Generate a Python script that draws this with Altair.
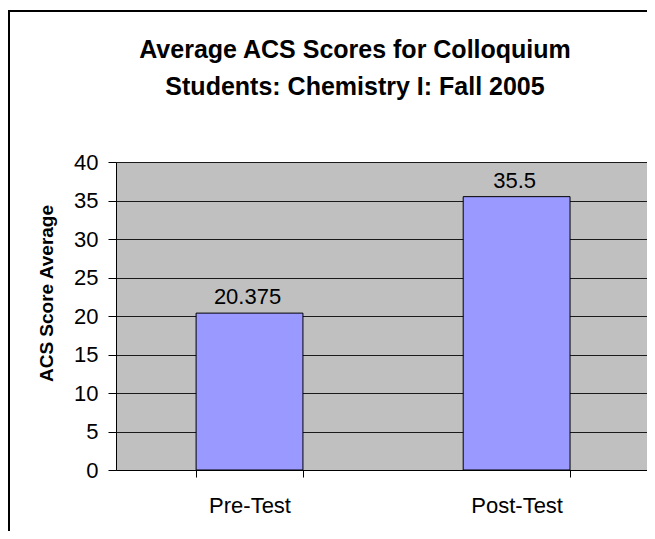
import altair as alt
import pandas as pd

categories = ["Pre-Test", "Post-Test"]
scores = [20.375, 35.5]
score_labels = ["20.375", "35.5"]
y_ticks = [0, 5, 10, 15, 20, 25, 30, 35, 40]
title_lines = ["Average ACS Scores for Colloquium", "Students: Chemistry I: Fall 2005"]
y_title = "ACS Score Average"

df = pd.DataFrame({"cat": categories, "score": scores, "label": score_labels})

FONT = "Liberation Sans"
W, H = 531, 308

x_enc = alt.X(
    "cat:N", sort=categories, title=None,
    scale=alt.Scale(paddingInner=0.6, paddingOuter=0.294, align=0.51),
    axis=alt.Axis(labelAngle=0, labelFont=FONT, labelFontSize=22, labelColor="black",
                  labelBaseline="alphabetic", labelPadding=35, tickBand="extent",
                  tickSize=7, tickColor="black", domainColor="black", grid=False),
)
y_enc = alt.Y(
    "score:Q", title=y_title,
    scale=alt.Scale(domain=[0, 40], nice=False),
    axis=alt.Axis(values=y_ticks, tickCount=9, labelOverlap=False,
                  labelFont=FONT, labelFontSize=22, labelColor="black",
                  labelPadding=10, tickSize=8, tickColor="black", domainColor="black",
                  grid=True, gridColor="#1a1a1a", gridWidth=1,
                  titleFont=FONT, titleFontSize=19, titleFontWeight="bold", titleColor="black",
                  titleAngle=270, titleAlign="center", titleBaseline="middle",
                  titleX=-70, titleY=131),
)

bars = alt.Chart(df).mark_bar(color="#9999FF", stroke="black", strokeWidth=1).encode(x=x_enc, y=y_enc)
labels = alt.Chart(df).mark_text(font=FONT, fontSize=22, baseline="alphabetic", dy=-9, dx=-2,
                                 color="black").encode(x=x_enc, y=y_enc, text="label:N")
title = alt.Chart(pd.DataFrame({"a": [0]})).mark_text(
    font=FONT, fontSize=25, fontWeight="bold", color="black", align="center",
    baseline="alphabetic", lineHeight=37).encode(
    x=alt.value(239), y=alt.value(-104), text=alt.value(title_lines))
border = alt.Chart(pd.DataFrame({"a": [0]})).mark_rect(fill=None, stroke="black", strokeWidth=2).encode(
    x=alt.value(-107), x2=alt.value(W + 200), y=alt.value(-151), y2=alt.value(H + 200))

chart = alt.layer(bars, labels, title, border).properties(
    width=W, height=H,
    autosize=alt.AutoSizeParams(type="none"),
    padding={"left": 108, "top": 154, "right": 0, "bottom": 61},
).configure_view(fill="#C0C0C0", stroke="#808080", strokeWidth=1)

chart.save("out.html", embed_options={"renderer": "svg", "actions": False})
